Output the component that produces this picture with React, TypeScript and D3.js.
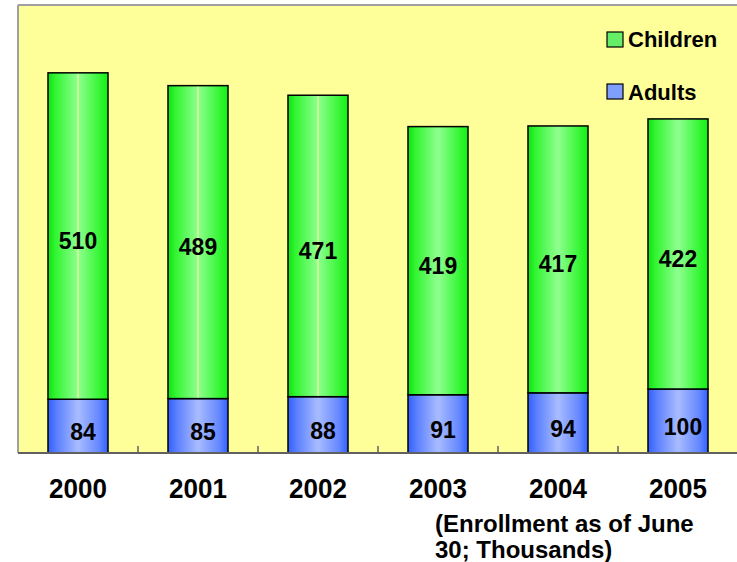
import React from "react";
import * as d3 from "d3";

const years = ["2000", "2001", "2002", "2003", "2004", "2005"];
const adults = [84, 85, 88, 91, 94, 100];
const children = [510, 489, 471, 419, 417, 422];
const seriesNames = ["Children", "Adults"];
const footnote = ["(Enrollment as of June", "30; Thousands)"];

const W = 737, H = 562;
const plotL = 18, plotR = 738, plotT = 5, plotB = 453;
const FONT = "Arial, 'Liberation Sans', sans-serif";

export default function App() {
  const x = d3.scaleBand<string>().domain(years).range([plotL, plotR]).paddingInner(0.5).paddingOuter(0.25);
  const y = d3.scaleLinear().domain([0, 700]).range([plotB, plotT]);
  const rows = years.map((yr, i) => ({ yr, adults: adults[i], children: children[i] }));
  const stack = d3.stack<any>().keys(["adults", "children"])(rows);
  const step = x.step();
  const bw = x.bandwidth();

  return (
    <svg width={W} height={H} style={{ position: "absolute", left: 0, top: 0 }}>
      <defs>
        <linearGradient id="gG" x1="0" x2="1" y1="0" y2="0">
          <stop offset="0" stopColor="#10e010" />
          <stop offset="0.12" stopColor="#30f530" />
          <stop offset="0.5" stopColor="#90ff90" />
          <stop offset="0.88" stopColor="#30f530" />
          <stop offset="1" stopColor="#10f010" />
        </linearGradient>
        <linearGradient id="gB" x1="0" x2="1" y1="0" y2="0">
          <stop offset="0" stopColor="#3360ff" />
          <stop offset="0.15" stopColor="#5c80ff" />
          <stop offset="0.5" stopColor="#a8bcff" />
          <stop offset="0.85" stopColor="#6688ff" />
          <stop offset="1" stopColor="#3360ff" />
        </linearGradient>
      </defs>
      <rect x={0} y={0} width={W} height={H} fill="#ffffff" />
      <rect x={plotL} y={plotT} width={plotR - plotL} height={plotB - plotT} fill="#ffff99" />
      <line x1={plotL} x2={plotL} y1={plotT} y2={plotB} stroke="#a0a0a0" strokeWidth={2} />
      <line x1={plotL} x2={plotR} y1={plotT} y2={plotT} stroke="#a0a0a0" strokeWidth={2} />

      {stack.map((s) =>
        s.map((d: any, i: number) => {
          const isAdults = s.key === "adults";
          const x0 = x(years[i])!;
          const y0 = y(d[1]);
          const h = y(d[0]) - y(d[1]);
          const cx = x0 + bw / 2 + (isAdults ? 5 : 0);
          const cy = (y0 + y0 + h) / 2 + (isAdults ? 5 : 4);
          return (
            <g key={s.key + i}>
              <rect x={x0} y={y0} width={bw} height={h} fill={isAdults ? "url(#gB)" : "url(#gG)"} stroke="#000" strokeWidth={1.5} />
              {!isAdults && i < 3 && (
                <line x1={x0 + bw / 2} x2={x0 + bw / 2} y1={y0 + 1} y2={y0 + h - 1} stroke="#ffff99" strokeWidth={1} />
              )}
              <text
                transform={`translate(${cx},${cy}) scale(1,1.08)`}
                textAnchor="middle"
                dominantBaseline="central"
                fontFamily={FONT}
                fontWeight="bold"
                fontSize={23}
                fill="#000"
              >
                {isAdults ? adults[i] : children[i]}
              </text>
            </g>
          );
        })
      )}

      <line x1={plotL} x2={plotR} y1={plotB} y2={plotB} stroke="#606060" strokeWidth={2} />
      {years.slice(1).map((yr) => (
        <line key={yr} x1={x(yr)! - (step - bw) / 2} x2={x(yr)! - (step - bw) / 2} y1={plotB} y2={plotB - 7} stroke="#606060" strokeWidth={1.5} />
      ))}
      {years.map((yr) => (
        <text key={yr} transform={`translate(${x(yr)! + bw / 2},498) scale(1,1.08)`} textAnchor="middle" fontFamily={FONT} fontWeight="bold" fontSize={26} fill="#000">
          {yr}
        </text>
      ))}

      {seriesNames.map((n, i) => (
        <g key={n}>
          <rect x={607} y={32 + i * 52} width={16} height={15} fill={i === 0 ? "#66ee66" : "#7f9fff"} stroke="#000" strokeWidth={1.2} />
          <text x={628} y={47 + i * 53} fontFamily={FONT} fontWeight="bold" fontSize={22} fill="#000">
            {n}
          </text>
        </g>
      ))}

      {footnote.map((t, i) => (
        <text key={i} x={435} y={532 + i * 26} fontFamily={FONT} fontWeight="bold" fontSize={24} fill="#000">
          {t}
        </text>
      ))}
    </svg>
  );
}
